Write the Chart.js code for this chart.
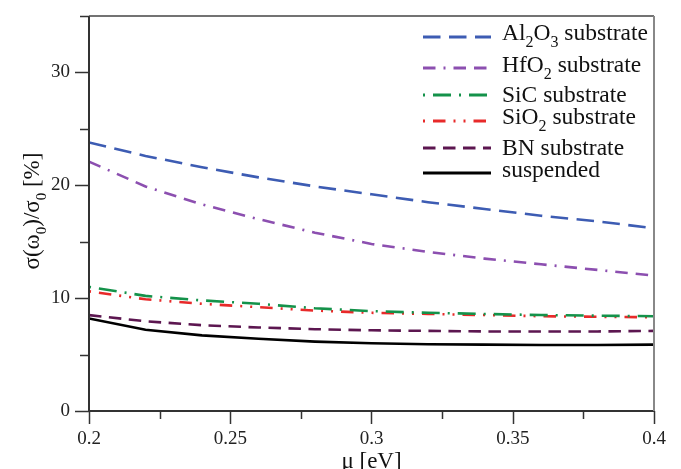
<!DOCTYPE html>
<html><head><meta charset="utf-8">
<script src="https://cdn.jsdelivr.net/npm/chart.js@4"></script>
<style>html,body{margin:0;padding:0;background:#fff}</style>
</head><body>
<canvas id="c" width="681" height="469"></canvas>
<script>
// ---- data ----
const mu        = [0.20, 0.22, 0.24, 0.26, 0.28, 0.30, 0.32, 0.34, 0.36, 0.38, 0.40];
const al2o3     = [23.8, 22.6, 21.6, 20.7, 19.9, 19.2, 18.5, 17.9, 17.3, 16.8, 16.2];
const hfo2      = [22.1, 19.9, 18.3, 17.0, 15.8, 14.8, 14.1, 13.5, 13.0, 12.5, 12.0];
const sic       = [11.0, 10.2, 9.8, 9.5, 9.1, 8.85, 8.7, 8.6, 8.5, 8.45, 8.4];
const sio2      = [10.6, 9.9, 9.5, 9.2, 8.9, 8.7, 8.6, 8.5, 8.4, 8.35, 8.3];
const bn        = [8.5, 7.95, 7.6, 7.4, 7.25, 7.15, 7.1, 7.05, 7.05, 7.05, 7.1];
const suspended = [8.2, 7.2, 6.7, 6.4, 6.15, 6.0, 5.92, 5.88, 5.85, 5.85, 5.88];

const xMajor = [0.2, 0.25, 0.3, 0.35, 0.4];
const xMinor = [0.225, 0.275, 0.325, 0.375];
const yMajor = [0, 10, 20, 30];
const yMinor = [5, 15, 25, 35];

// legend labels: [text, isSubscript]
const legendLabels = [
  [['Al',0],['2',1],['O',0],['3',1],[' substrate',0]],
  [['HfO',0],['2',1],[' substrate',0]],
  [['SiC substrate',0]],
  [['SiO',0],['2',1],[' substrate',0]],
  [['BN substrate',0]],
  [['suspended',0]]
];
const yTitle = [['\u03c3(\u03c9',0],['0',1],[')/\u03c3',0],['0',1],[' [%]',0]];
const xTitle = '\u03bc [eV]';

const FONT = "'Liberation Serif','Times New Roman',serif";

const series = [
  {data: al2o3, color:'#3d5cb3', dash:[17.5,8.5], off:0},
  {data: hfo2, color:'#8c4fb0', dash:[12.5,8,2,8,12.5,8], off:0},
  {data: sic, color:'#14924a', dash:[2,8,18,8], off:0},
  {data: sio2, color:'#e82a2a', dash:[12.5,8,2,8,2,8], off:30.5},
  {data: bn, color:'#5c1650', dash:[12.5,7.5], off:0},
  {data: suspended, color:'#000000', dash:[], off:0}
];

function drawRuns(ctx, runs, x, y, size, subSize, subOff, measureOnly){
  let w = 0;
  for (const [t, sub] of runs){
    ctx.font = (sub ? subSize : size) + 'px ' + FONT;
    const tw = ctx.measureText(t).width;
    if (!measureOnly) ctx.fillText(t, x + w, y + (sub ? subOff : 0));
    w += tw;
  }
  return w;
}

const decor = {
  id:'decor',
  afterDatasetsDraw(chart){
    const ctx = chart.ctx, a = chart.chartArea;
    const xs = chart.scales.x, ys = chart.scales.y;
    ctx.save();
    ctx.lineCap = 'butt';
    ctx.strokeStyle = '#333'; ctx.lineWidth = 2;
    ctx.beginPath(); ctx.moveTo(a.left, a.top); ctx.lineTo(a.left, a.bottom); ctx.lineTo(a.right, a.bottom); ctx.stroke();
    ctx.lineWidth = 1.5; ctx.strokeStyle = '#444';
    ctx.beginPath(); ctx.moveTo(a.left, a.top); ctx.lineTo(a.right, a.top); ctx.stroke();
    ctx.strokeStyle = '#888'; ctx.lineWidth = 2;
    ctx.beginPath(); ctx.moveTo(a.right, a.top); ctx.lineTo(a.right, a.bottom); ctx.stroke();
    ctx.strokeStyle = '#333'; ctx.lineWidth = 1.5;
    const tick = (x1,y1,x2,y2)=>{ctx.beginPath();ctx.moveTo(x1,y1);ctx.lineTo(x2,y2);ctx.stroke();};
    xMajor.forEach(v=>{const p=Math.round(xs.getPixelForValue(v))+0.5; tick(p,a.bottom,p,a.bottom+13);});
    xMinor.forEach(v=>{const p=Math.round(xs.getPixelForValue(v))+0.5; tick(p,a.bottom,p,a.bottom+8);});
    yMajor.forEach(v=>{const p=Math.round(ys.getPixelForValue(v))+0.5; tick(a.left-14,p,a.left,p);});
    yMinor.forEach(v=>{const p=Math.round(ys.getPixelForValue(v))+0.5; tick(a.left-9,p,a.left,p);});
    ctx.restore();
  },
  afterDraw(chart){
    const ctx = chart.ctx, a = chart.chartArea;
    ctx.save();
    const lineY = [37, 68, 95, 121, 148, 173];
    const textY = [40, 71.5, 101.5, 123.5, 155, 176.5];
    series.forEach((s,i)=>{
      ctx.strokeStyle = s.color; ctx.lineWidth = 3;
      ctx.setLineDash(s.dash); ctx.lineDashOffset = s.off;
      ctx.beginPath(); ctx.moveTo(423, lineY[i]); ctx.lineTo(491, lineY[i]); ctx.stroke();
      ctx.setLineDash([]);
      ctx.fillStyle = '#111'; ctx.textBaseline = 'alphabetic'; ctx.textAlign = 'left';
      drawRuns(ctx, legendLabels[i], 502, textY[i], 23.5, 16, 7, false);
    });
    ctx.fillStyle = '#111';
    ctx.font = '23px ' + FONT; ctx.textAlign = 'center'; ctx.textBaseline = 'alphabetic';
    ctx.fillText(xTitle, (a.left + a.right)/2, 468);
    ctx.textAlign = 'left';
    const w = drawRuns(ctx, yTitle, 0, 0, 23, 15, 7, true);
    ctx.translate(39, 211);
    ctx.rotate(-Math.PI/2);
    drawRuns(ctx, yTitle, -w/2, 0, 23, 15, 7, false);
    ctx.restore();
  }
};

new Chart(document.getElementById('c'), {
  type:'line',
  data:{
    datasets: series.map(s=>({
      data: mu.map((m,i)=>({x:m, y:s.data[i]})),
      borderColor: s.color, borderWidth: 2.6, borderDash: s.dash, borderDashOffset: s.off,
      pointRadius: 0, fill:false, tension:0
    }))
  },
  options:{
    responsive:false, animation:false,
    layout:{padding:{top:16, right:27, left:0, bottom:0}},
    plugins:{legend:{display:false}, tooltip:{enabled:false}},
    scales:{
      x:{type:'linear', min:0.2, max:0.4,
         afterBuildTicks: s=>{ s.ticks = xMajor.map(v=>({value:v})); },
         afterFit: s=>{ s.height = 58; s.paddingLeft = 0; s.paddingRight = 0; },
         grid:{display:false, drawTicks:false}, border:{display:false},
         ticks:{padding:17, autoSkip:false, maxRotation:0, color:'#222',
           font:{family:FONT, size:19},
           callback: v=>String(Math.round(v*1000)/1000)}},
      y:{type:'linear', min:0, max:35,
         afterBuildTicks: s=>{ s.ticks = yMajor.map(v=>({value:v})); },
         afterFit: s=>{ s.width = 89; s.paddingTop = 0; s.paddingBottom = 0; },
         grid:{display:false, drawTicks:false}, border:{display:false},
         ticks:{padding:19, color:'#222', font:{family:FONT, size:19},
           callback: v=>String(v)}}
    }
  },
  plugins:[decor]
});
</script>
</body></html>
